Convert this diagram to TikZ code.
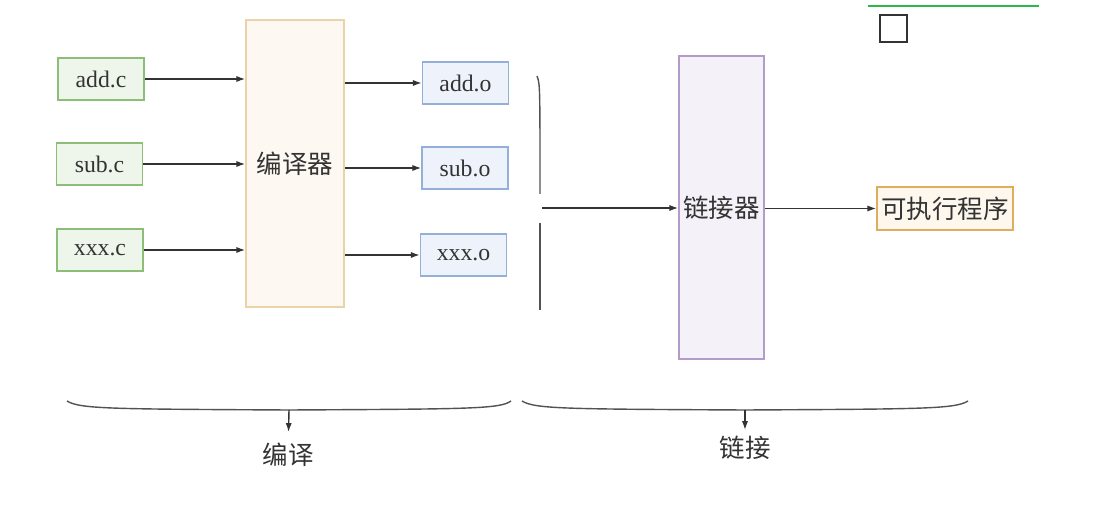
\documentclass[tikz,border=0pt]{standalone}
\usepackage{fontspec}
\usepackage{tikz}
\usetikzlibrary{arrows.meta,positioning}
\newfontfamily\cjk{Noto Sans CJK SC}
\newfontfamily\filefont{Liberation Serif}
\definecolor{ink}{HTML}{333333}
\definecolor{srcline}{HTML}{8DBE78}
\definecolor{srcwash}{HTML}{EEF6EB}
\definecolor{ccline}{HTML}{EBD3A8}
\definecolor{ccwash}{HTML}{FDF8F1}
\definecolor{objline}{HTML}{94AFD8}
\definecolor{objwash}{HTML}{EEF3FB}
\definecolor{lkline}{HTML}{B49BC8}
\definecolor{lkwash}{HTML}{F5F1F8}
\definecolor{exeline}{HTML}{DFAE5C}
\definecolor{exewash}{HTML}{FEF7EE}
\definecolor{penline}{HTML}{2DB84A}

\begin{document}
\begin{tikzpicture}[x=0.02cm,y=-0.02cm,>={Latex[length=5pt,width=3.5pt]},
  file/.style={line width=0.9pt,minimum width=1.72cm,minimum height=0.84cm,text=ink,
    font=\filefont\fontsize{13.5}{16}\selectfont},
  srcbox/.style={file,draw=srcline,fill=srcwash},
  objbox/.style={file,draw=objline,fill=objwash},
  tool/.style={line width=0.9pt,inner sep=1pt,text=ink,font=\cjk\fontsize{14.5}{17}\selectfont},
  lbl/.style={text=ink,font=\cjk\fontsize{14.5}{17}\selectfont},
  link/.style={->,draw=ink,line width=0.8pt}]
  \useasboundingbox (0,0) rectangle (1099,520);

  % source files
  \node[srcbox] (addc) at (101,79) {add.c};
  \node[srcbox] (subc) at (99.5,164) {sub.c};
  \node[srcbox] (xxxc) at (100,250) {xxx.c};

  % compiler
  \node[tool,draw=ccline,fill=ccwash,minimum width=1.96cm,minimum height=5.74cm] (cc) at (295,163.5) {编译器};

  % object files
  \node[objbox] (addo) at (465.5,83) {add.o};
  \node[objbox] (subo) at (465,168) {sub.o};
  \node[objbox] (xxxo) at (463.5,255) {xxx.o};

  % linker and result
  \node[tool,draw=lkline,fill=lkwash,minimum width=1.7cm,minimum height=6.06cm] (lk) at (721.5,207.5) {链接器};
  \node[tool,draw=exeline,fill=exewash,minimum width=2.72cm,minimum height=0.86cm] (exe) at (945,208.5) {可执行程序};

  \draw[link] (addc) -- (addc -| cc.west);
  \draw[link] (subc) -- (subc -| cc.west);
  \draw[link] (xxxc) -- (xxxc -| cc.west);
  \draw[link] (cc.east |- addo) -- (addo);
  \draw[link] (cc.east |- subo) -- (subo);
  \draw[link] (cc.east |- xxxo) -- (xxxo);

  % gathering bar in front of the linker
  \draw[ink!85,line width=0.8pt] (537,76) .. controls (540,84) .. (540,194);
  \draw[ink!85,line width=0.8pt] (540,223) -- (540,310);
  \coordinate (gather) at (542,208);
  \draw[link] (gather) -- (gather -| lk.west);
  \draw[link] (lk.east |- exe) -- (exe);

  % the two stages
  \node[lbl] (cstep) at (288,455) {编译};
  \node[lbl] (lstep) at (745,448) {链接};
  \draw[ink!85,line width=0.8pt] (67,401) .. controls (80,409) and (110,409) .. (289,410) coordinate (cmid)
    .. controls (470,409) and (500,409) .. (511,401);
  \draw[ink!85,line width=0.8pt] (522,401) .. controls (535,409) and (565,409) .. (745,410) coordinate (lmid)
    .. controls (925,409) and (955,409) .. (968,401);
  \draw[link,shorten >=0.1cm] (cmid) -- (cstep);
  \draw[link] (lmid) -- (lstep);

  % marks in the top corner
  \draw[penline,line width=0.8pt] (868,6) -- (1039,6);
  \draw[ink,line width=0.9pt] (880,15) rectangle (907,42);
\end{tikzpicture}
\end{document}
